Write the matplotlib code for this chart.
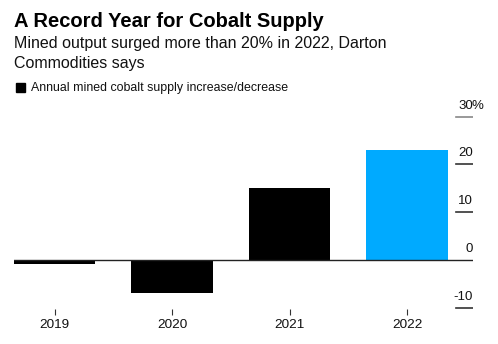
"""Bar chart: annual mined cobalt supply change."""

import matplotlib
matplotlib.use("Agg")
import matplotlib.pyplot as plt
import matplotlib.transforms as mtransforms

plt.rcParams["font.family"] = ["Liberation Sans", "DejaVu Sans"]

years = ["2019", "2020", "2021", "2022"]
change_pct = [-0.9, -7.0, 15.1, 23.0]
bar_colors = ["#000000", "#000000", "#000000", "#00aaff"]
y_ticks = [-10, 0, 10, 20, 30]

fig = plt.figure(figsize=(4.98, 3.44), dpi=100)
W, H = 498, 344


def px_box(left, top, right, bottom):
    return [left / W, 1 - bottom / H, (right - left) / W, (bottom - top) / H]


ax = fig.add_axes(px_box(14, 100, 473, 309))
x = list(range(len(years)))
ax.bar(x, change_pct, width=0.694, color=bar_colors, zorder=2)
ax.set_xlim(-0.347, 3.562)
ax.set_ylim(-10.3, 33.5)

for spine in ax.spines.values():
    spine.set_visible(False)
ax.set_yticks([])
ax.set_xticks(x, years)
ax.tick_params(axis="x", length=4, width=0.8, color="#333333", pad=3,
               labelsize=9.7, labelcolor="#111111")

# short right-hand gridlines with labels, full-width zero line
offset = mtransforms.ScaledTranslation(0, 8 / 100, fig.dpi_scale_trans)
label_tf = ax.get_yaxis_transform() + offset
pct_tf = label_tf + mtransforms.ScaledTranslation(-1.5 / 100, 0, fig.dpi_scale_trans)
for t in y_ticks:
    if t == 0:
        ax.axhline(0, color="#222222", lw=1.0, zorder=3)
    else:
        ax.axhline(t, xmin=0.963, xmax=1.0, lw=1.2,
                   color="#888888" if t == 30 else "#333333", zorder=3)
    ax.text(1.0, t, str(t), transform=label_tf, ha="right", va="baseline",
            fontsize=9.5, color="#111111")
    if t == y_ticks[-1]:
        ax.text(1.0, t, "%", transform=pct_tf, ha="left", va="baseline",
                fontsize=9.5, color="#111111")

fig.text(14 / W, 1 - 27 / H, "A Record Year for Cobalt Supply",
         fontsize=14.5, fontweight="bold", va="baseline", color="#000000")
fig.text(14 / W, 1 - 48 / H, "Mined output surged more than 20% in 2022, Darton",
         fontsize=11.5, va="baseline", color="#111111")
fig.text(14 / W, 1 - 68 / H, "Commodities says",
         fontsize=11.5, va="baseline", color="#111111")
fig.patches.append(plt.Rectangle((16 / W, 1 - 92 / H), 9 / W, 9 / H,
                                 transform=fig.transFigure, color="#000000"))
fig.text(31 / W, 1 - 91 / H, "Annual mined cobalt supply increase/decrease",
         fontsize=8.9, va="baseline", color="#111111")

fig.savefig("out.png", dpi=100)
